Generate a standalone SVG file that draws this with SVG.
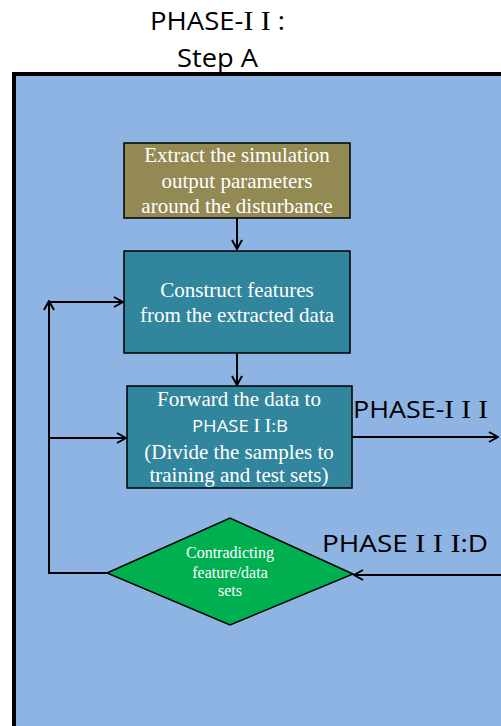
<svg xmlns="http://www.w3.org/2000/svg" width="501" height="726" viewBox="0 0 501 726">
  <style>
    .title { font-family: "Open Sans", "Liberation Sans", sans-serif; font-size: 25px; fill: #000; }
    .roman { font-family: "Liberation Serif", serif; }
    .box { stroke: #000; stroke-width: 1.5; }
    .btxt { font-family: "Liberation Serif", "Times New Roman", serif; font-size: 21px; fill: #fff; text-anchor: middle; }
    .bsans { font-family: "Open Sans", "Liberation Sans", sans-serif; font-size: 17px; text-anchor: start; }
    .dtxt { font-family: "Liberation Serif", serif; font-size: 16px; fill: #fff; text-anchor: middle; }
    .lbl { font-family: "Open Sans", "Liberation Sans", sans-serif; font-size: 24px; fill: #000; }
    .conn { fill: none; stroke: #000; stroke-width: 2; }
  </style>
  <defs>
    <marker id="arrow" viewBox="0 0 12 12" refX="11" refY="6" markerWidth="12" markerHeight="12" markerUnits="userSpaceOnUse" orient="auto">
      <polyline points="2,1 11,6 2,11" fill="none" stroke="#000" stroke-width="2"/>
    </marker>
  </defs>

  <rect width="501" height="726" fill="#fff"/>

  <!-- title -->
  <g id="title">
    <text class="title" x="150" y="30" textLength="135" lengthAdjust="spacingAndGlyphs">PHASE-<tspan class="roman" font-size="27">I I</tspan> :</text>
    <text class="title" x="177" y="67" textLength="81" lengthAdjust="spacingAndGlyphs">Step A</text>
  </g>

  <!-- phase frame -->
  <g id="frame">
    <rect x="14" y="74" width="500" height="670" fill="#8EB4E3" stroke="#000" stroke-width="4"/>
  </g>

  <!-- connectors -->
  <g id="connectors">
    <line class="conn" x1="237" y1="218" x2="237" y2="249" marker-end="url(#arrow)"/>
    <line class="conn" x1="237" y1="354" x2="237" y2="385" marker-end="url(#arrow)"/>
    <polyline class="conn" points="107,573 49,573 49,302"/>
    <line class="conn" x1="49" y1="320" x2="49" y2="301" marker-end="url(#arrow)"/>
    <line class="conn" x1="49" y1="302" x2="123" y2="302" marker-end="url(#arrow)"/>
    <line class="conn" x1="49" y1="438" x2="126" y2="438" marker-end="url(#arrow)"/>
    <line class="conn" x1="352" y1="437" x2="498" y2="437" marker-end="url(#arrow)"/>
    <line class="conn" x1="505" y1="575" x2="354" y2="575" marker-end="url(#arrow)"/>
    <text class="lbl" x="353" y="418" textLength="135" lengthAdjust="spacingAndGlyphs">PHASE-<tspan class="roman" font-size="26">I I I</tspan></text>
    <text class="lbl" x="322" y="552" textLength="166" lengthAdjust="spacingAndGlyphs">PHASE<tspan class="roman" font-size="26"> I I I</tspan>:D</text>
  </g>

  <!-- nodes -->
  <g id="extract">
    <rect class="box" x="124" y="143" width="226" height="75" fill="#938953"/>
    <text class="btxt" x="237" y="162">Extract the simulation</text>
    <text class="btxt" x="237" y="188">output parameters</text>
    <text class="btxt" x="237" y="213">around the disturbance</text>
  </g>

  <g id="construct">
    <rect class="box" x="124" y="251" width="226" height="102" fill="#31859C"/>
    <text class="btxt" x="237" y="297">Construct features</text>
    <text class="btxt" x="237" y="322">from the extracted data</text>
  </g>

  <g id="forward">
    <rect class="box" x="127" y="386" width="225" height="102" fill="#31859C"/>
    <text class="btxt" x="239" y="406">Forward the data to</text>
    <text class="btxt bsans" x="192" y="432" textLength="96" lengthAdjust="spacingAndGlyphs">PHASE <tspan class="roman" font-size="18">I I</tspan>:B</text>
    <text class="btxt" x="239" y="459">(Divide the samples to</text>
    <text class="btxt" x="239" y="482">training and test sets)</text>
  </g>

  <g id="contradict">
    <polygon points="107,573 230,518 353,574 230,625" fill="#00B050" stroke="#000" stroke-width="1.5"/>
    <text class="dtxt" x="230" y="558">Contradicting</text>
    <text class="dtxt" x="230" y="578">feature/data</text>
    <text class="dtxt" x="230" y="596">sets</text>
  </g>
</svg>
